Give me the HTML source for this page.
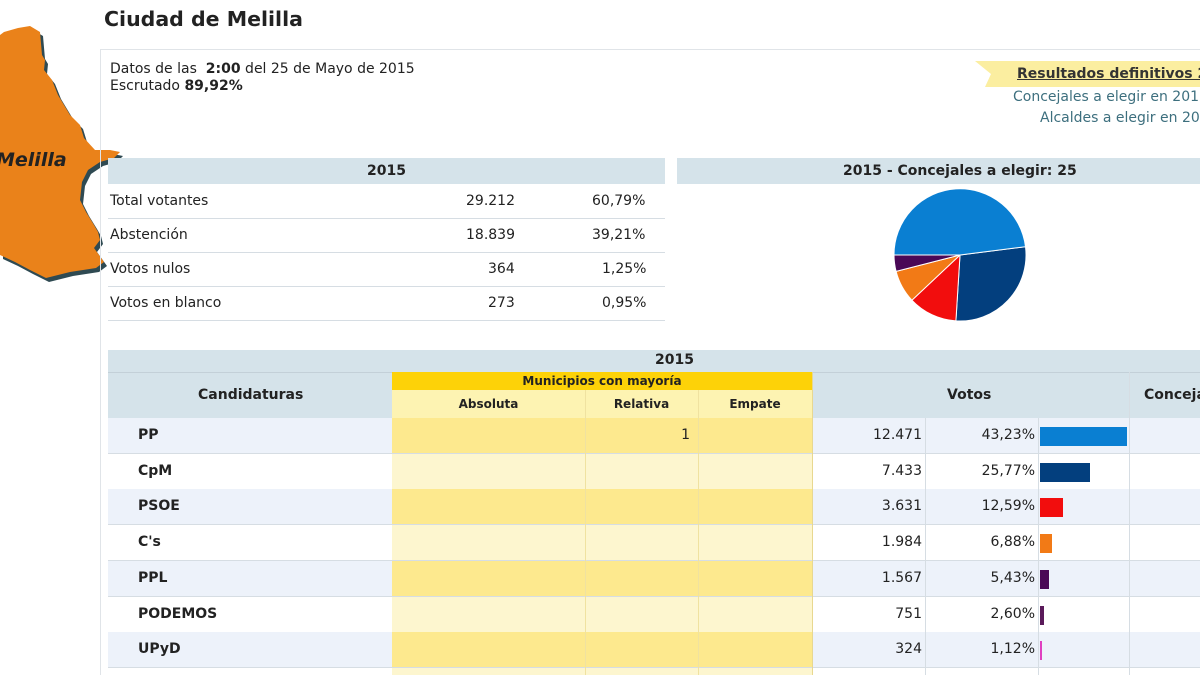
<!DOCTYPE html>
<html><head><meta charset="utf-8"><style>
*{margin:0;padding:0;box-sizing:border-box}
html,body{width:1200px;height:675px;overflow:hidden}
body{background:#fff;font-family:"DejaVu Sans","Liberation Sans",sans-serif;color:#222;position:relative}
.a{position:absolute;white-space:nowrap}
.t{font-size:14px}
.b{font-weight:bold}
.hl{position:absolute;height:1px;background:#d6dde3}
.vl{position:absolute;width:1px;background:#d6dde3}
</style></head><body>
<svg class="a" style="left:0;top:0" width="130" height="290">
<polygon points="4,32 18,28 30,26 40,32 42,55 45,60 44,70 52,80 58,95 64,105 70,115 80,125 84,138 95,150 110,150 120,152 114,158 100,162 88,170 82,182 80,200 86,212 94,225 98,232 100,240 94,248 104,262 96,268 70,272 46,278 30,270 15,262 0,255 0,35" fill="#2f4a52" transform="translate(3,4)"/>
<polygon points="4,32 18,28 30,26 40,32 42,55 45,60 44,70 52,80 58,95 64,105 70,115 80,125 84,138 95,150 110,150 120,152 114,158 100,162 88,170 82,182 80,200 86,212 94,225 98,232 100,240 94,248 104,262 96,268 70,272 46,278 30,270 15,262 0,255 0,35" fill="#ea821a"/>
</svg>
<div class="a b" style="left:-4px;top:149px;font-size:19px;font-style:italic;color:#222">Melilla</div>
<div class="a b" style="left:104px;top:7px;font-size:20.5px;color:#222">Ciudad de Melilla</div>
<div class="a" style="left:100px;top:49px;width:1100px;height:1px;background:#e0e4e8"></div>
<div class="vl" style="left:100px;top:49px;height:626px;background:#e0e4e8"></div>
<div class="a t" style="left:110px;top:61px">Datos de las &nbsp;<b>2:00</b> del 25 de Mayo de 2015</div>
<div class="a t" style="left:110px;top:78px">Escrutado <b>89,92%</b></div>
<svg class="a" style="left:975px;top:61px" width="225" height="27"><polygon points="0,0 225,0 225,26 10,26 16,13" fill="#fbeea0"/></svg>
<div class="a t b" style="left:1017px;top:66px;text-decoration:underline;color:#333">Resultados definitivos 2015</div>
<div class="a t" style="left:1013px;top:89px;color:#3d6f7e">Concejales a elegir en 2015</div>
<div class="a t" style="left:1040px;top:110px;color:#3d6f7e">Alcaldes a elegir en 2015</div>

<div class="a" style="left:108px;top:158px;width:557px;height:26px;background:#d5e3ea"></div>
<div class="a t b" style="left:367px;top:163px">2015</div>
<div class="a t" style="left:110px;top:193px">Total votantes</div><div class="a t" style="left:466px;top:193px">29.212</div><div class="a t" style="left:592px;top:193px">60,79%</div>
<div class="hl" style="left:108px;top:218px;width:557px"></div>
<div class="a t" style="left:110px;top:227px">Abstención</div><div class="a t" style="left:466px;top:227px">18.839</div><div class="a t" style="left:592px;top:227px">39,21%</div>
<div class="hl" style="left:108px;top:252px;width:557px"></div>
<div class="a t" style="left:110px;top:261px">Votos nulos</div><div class="a t" style="left:488px;top:261px">364</div><div class="a t" style="left:602px;top:261px">1,25%</div>
<div class="hl" style="left:108px;top:286px;width:557px"></div>
<div class="a t" style="left:110px;top:295px">Votos en blanco</div><div class="a t" style="left:488px;top:295px">273</div><div class="a t" style="left:602px;top:295px">0,95%</div>
<div class="hl" style="left:108px;top:320px;width:557px"></div>

<div class="a" style="left:677px;top:158px;width:523px;height:26px;background:#d5e3ea"></div>
<div class="a t b" style="left:843px;top:163px">2015 - Concejales a elegir: 25</div>
<svg class="a" style="left:0;top:0" width="1200" height="340">
<g stroke="#fff" stroke-width="1">
<path d="M960,255 L1025.5,246.7 A66,66 0 0 1 955.9,320.9 Z" fill="#033f7e"/>
<path d="M960,255 L955.9,320.9 A66,66 0 0 1 911.9,300.2 Z" fill="#f20d0d"/>
<path d="M960,255 L911.9,300.2 A66,66 0 0 1 896.1,271.4 Z" fill="#f27a16"/>
<path d="M960,255 L896.1,271.4 A66,66 0 0 1 894,255 Z" fill="#4a0856"/>
<path d="M960,255 L894,255 A66,66 0 0 1 1025.5,246.7 Z" fill="#0a7fd2"/>
</g></svg>

<div class="a" style="left:108px;top:350px;width:1092px;height:68px;background:#d5e3ea"></div>
<div class="a t b" style="left:655px;top:352px">2015</div>
<div class="hl" style="left:108px;top:372px;width:1092px;background:#c3d0d8"></div>
<div class="a" style="left:392px;top:372px;width:420px;height:18px;background:#fdd208"></div>
<div class="a" style="left:392px;top:390px;width:420px;height:28px;background:#fdf3b2"></div>
<div class="a b" style="left:392px;top:374px;width:420px;text-align:center;font-size:12px">Municipios con mayoría</div>
<div class="a t b" style="left:198px;top:387px">Candidaturas</div>
<div class="a b" style="left:392px;top:397px;width:193px;text-align:center;font-size:12px">Absoluta</div>
<div class="a b" style="left:585px;top:397px;width:113px;text-align:center;font-size:12px">Relativa</div>
<div class="a b" style="left:698px;top:397px;width:114px;text-align:center;font-size:12px">Empate</div>
<div class="a t b" style="left:947px;top:387px">Votos</div>
<div class="a t b" style="left:1144px;top:387px">Concejales</div>
<div id="rows"></div>
<script>
var d=[["PP","12.471","43,23%",87,"#0a7fd2","1"],["CpM","7.433","25,77%",50,"#033f7e",""],["PSOE","3.631","12,59%",23,"#f20d0d",""],["C's","1.984","6,88%",12,"#f27a16",""],["PPL","1.567","5,43%",9,"#4a0856",""],["PODEMOS","751","2,60%",4,"#5a1a5a",""],["UPyD","324","1,12%",2,"#e040c0",""]];
var h="";
for(var i=0;i<8;i++){var y=418+i*35.7,odd=i%2==0,hh=(i==7?675-y:35);
h+='<div class="a" style="left:108px;top:'+y+'px;width:284px;height:'+hh+'px;background:'+(odd?'#edf2fa':'#fff')+'"></div>';
h+='<div class="a" style="left:392px;top:'+y+'px;width:420px;height:'+hh+'px;background:'+(odd?'#fde98e':'#fdf6cf')+'"></div>';
h+='<div class="a" style="left:812px;top:'+y+'px;width:388px;height:'+hh+'px;background:'+(odd?'#edf2fa':'#fff')+'"></div>';
if(i<7){h+='<div class="hl" style="left:108px;top:'+(y+35)+'px;width:1092px"></div>';var r=d[i];
h+='<div class="a t b" style="left:138px;top:'+(y+9)+'px">'+r[0]+'</div>';
h+='<div class="a t" style="left:600px;width:90px;text-align:right;top:'+(y+9)+'px">'+r[5]+'</div>';
h+='<div class="a t" style="left:812px;width:110px;text-align:right;top:'+(y+9)+'px">'+r[1]+'</div>';
h+='<div class="a t" style="left:925px;width:110px;text-align:right;top:'+(y+9)+'px">'+r[2]+'</div>';
h+='<div class="a" style="left:1040px;top:'+(y+9)+'px;width:'+r[3]+'px;height:19px;background:'+r[4]+'"></div>';}
}
h+='<div class="vl" style="left:585px;top:390px;height:285px;background:#f0e2a0"></div><div class="vl" style="left:698px;top:390px;height:285px;background:#f0e2a0"></div><div class="vl" style="left:812px;top:372px;height:303px;background:#e8d890"></div><div class="vl" style="left:925px;top:418px;height:257px"></div><div class="vl" style="left:1038px;top:418px;height:257px"></div><div class="vl" style="left:1129px;top:372px;height:303px"></div>';
document.getElementById("rows").innerHTML=h;
</script>
</body></html>
